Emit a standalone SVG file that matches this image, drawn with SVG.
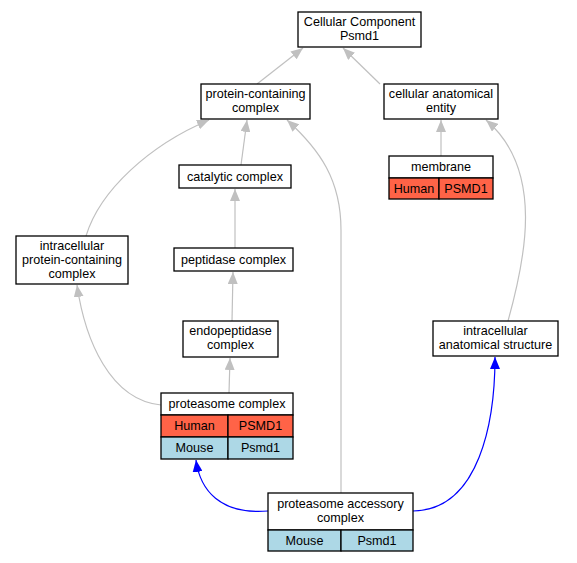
<svg xmlns="http://www.w3.org/2000/svg" width="577" height="563" viewBox="0 0 577 563">
<style>
.n{fill:#fff;stroke:#000;stroke-width:1.3}
.h{fill:#ff6347;stroke:#000;stroke-width:1.3}
.m{fill:#add8e6;stroke:#000;stroke-width:1.3}
text{font-family:"Liberation Sans",Arial,sans-serif;font-size:12.6px;text-anchor:middle;fill:#000}
.e{fill:none;stroke:#c0c0c0;stroke-width:1.2}
.b{fill:none;stroke:#0000ff;stroke-width:1.2}
</style>
<defs>
<marker id="ag" markerWidth="12" markerHeight="10" refX="12" refY="5" orient="auto" markerUnits="userSpaceOnUse" viewBox="0 0 12 10"><path d="M0,0L12,5L0,10z" fill="#c0c0c0"/></marker>
<marker id="ab" markerWidth="12" markerHeight="10" refX="12" refY="5" orient="auto" markerUnits="userSpaceOnUse" viewBox="0 0 12 10"><path d="M0,0L12,5L0,10z" fill="#0000ff"/></marker>
</defs>
<g id="edges">
<path class="e" d="M257,84L303,48" marker-end="url(#ag)"/>
<path class="e" d="M380,84L343,48" marker-end="url(#ag)"/>
<path class="e" d="M441,156L441,120" marker-end="url(#ag)"/>
<path class="e" d="M241,165L247,120" marker-end="url(#ag)"/>
<path class="e" d="M86,236C100,190 150,145 209,120" marker-end="url(#ag)"/>
<path class="e" d="M235,248L235,189" marker-end="url(#ag)"/>
<path class="e" d="M232,321L233,272" marker-end="url(#ag)"/>
<path class="e" d="M229,393L230,358" marker-end="url(#ag)"/>
<path class="e" d="M161,405C110,400 85,340 77,285" marker-end="url(#ag)"/>
<path class="e" d="M341,493L341,230C341,180 320,150 287,120" marker-end="url(#ag)"/>
<path class="e" d="M508,321C525,260 545,170 486,120" marker-end="url(#ag)"/>
<path class="b" d="M268,511C220,515 200,490 196,460" marker-end="url(#ab)"/>
<path class="b" d="M413,511C480,510 495,420 495,357" marker-end="url(#ab)"/>
</g>
<g id="cc">
<rect class="n" x="298" y="12" width="123" height="35"/>
<text x="359.5" y="26">Cellular Component</text>
<text x="359.5" y="40">Psmd1</text>
</g>
<g id="pcc">
<rect class="n" x="201" y="84" width="109" height="35"/>
<text x="255.5" y="98">protein-containing</text>
<text x="255.5" y="112">complex</text>
</g>
<g id="cae">
<rect class="n" x="384" y="84" width="114" height="35"/>
<text x="441" y="98">cellular anatomical</text>
<text x="441" y="112">entity</text>
</g>
<g id="catalytic">
<rect class="n" x="179" y="165" width="112" height="23"/>
<text x="235" y="181">catalytic complex</text>
</g>
<g id="membrane">
<rect class="n" x="389" y="156" width="104" height="22"/>
<text x="441" y="171">membrane</text>
<rect class="h" x="389" y="178" width="50" height="21"/>
<text x="414" y="193">Human</text>
<rect class="h" x="439" y="178" width="54" height="21"/>
<text x="466" y="193">PSMD1</text>
</g>
<g id="ipcc">
<rect class="n" x="16" y="236" width="112" height="48"/>
<text x="72" y="250">intracellular</text>
<text x="72" y="264">protein-containing</text>
<text x="72" y="278">complex</text>
</g>
<g id="peptidase">
<rect class="n" x="174" y="248" width="119" height="23"/>
<text x="233.5" y="264">peptidase complex</text>
</g>
<g id="endo">
<rect class="n" x="183" y="321" width="95" height="36"/>
<text x="230.5" y="335">endopeptidase</text>
<text x="230.5" y="349">complex</text>
</g>
<g id="ias">
<rect class="n" x="433" y="321" width="125" height="35"/>
<text x="495.5" y="335">intracellular</text>
<text x="495.5" y="349">anatomical structure</text>
</g>
<g id="proteasome">
<rect class="n" x="161" y="393" width="132" height="22"/>
<text x="227" y="408">proteasome complex</text>
<rect class="h" x="161" y="415" width="67" height="22"/>
<text x="194.5" y="430">Human</text>
<rect class="h" x="228" y="415" width="65" height="22"/>
<text x="260.5" y="430">PSMD1</text>
<rect class="m" x="161" y="437" width="67" height="22"/>
<text x="194.5" y="452">Mouse</text>
<rect class="m" x="228" y="437" width="65" height="22"/>
<text x="260.5" y="452">Psmd1</text>
</g>
<g id="pac">
<rect class="n" x="268" y="493" width="145" height="37"/>
<text x="340.5" y="508">proteasome accessory</text>
<text x="340.5" y="522">complex</text>
<rect class="m" x="268" y="530" width="73" height="21"/>
<text x="304.5" y="545">Mouse</text>
<rect class="m" x="341" y="530" width="72" height="21"/>
<text x="377" y="545">Psmd1</text>
</g>
</svg>
